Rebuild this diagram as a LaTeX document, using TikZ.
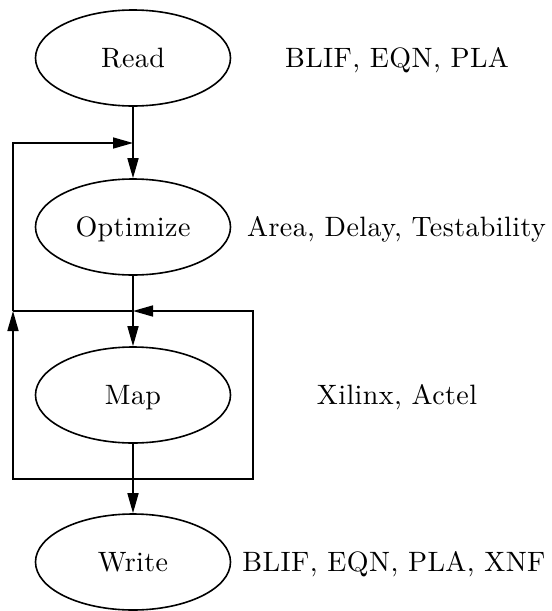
\documentclass[tikz,border=0pt]{standalone}
\usepackage{fontspec}
\setmainfont{lmroman10-regular.otf}[LetterSpace=1.5]
\usetikzlibrary{shapes.geometric,arrows.meta}

\tikzset{
  stage/.style={draw, ellipse, line width=1.6pt, minimum width=195pt,
    minimum height=96pt, inner sep=0pt, font=\fontsize{28}{32}\selectfont,
    text height=18pt, text depth=0pt},
  fmt/.style={inner sep=0pt, font=\fontsize{28}{32}\selectfont,
    text height=18pt, text depth=0pt},
  flow/.style={line width=1.6pt, -{Triangle[length=20pt,width=11pt]}},
  wire/.style={line width=1.6pt}
}

\begin{document}
\begin{tikzpicture}[x=1pt, y=-1pt]
  \useasboundingbox (0,0) rectangle (552,611);

  % synthesis stages
  \node[stage] (read)  at (133,58)  {Read};
  \node[stage] (opt)   at (133,227) {Optimize};
  \node[stage] (map)   at (133,395) {Map};
  \node[stage] (write) at (133,562) {Write};

  % supported formats and targets
  \node[fmt] (freadfmt)  at (397,58)  {BLIF, EQN, PLA};
  \node[fmt] (foptfmt)   at (396.5,227) {Area, Delay, Testability};
  \node[fmt] (fmapfmt)   at (397,395) {Xilinx, Actel};
  \node[fmt] (fwritefmt) at (394,562) {BLIF, EQN, PLA, XNF};

  % junctions on the main flow and loop corners
  \coordinate (j1) at (133,143);
  \coordinate (j2) at (133,311);
  \coordinate (j3) at (133,479);
  \coordinate (tl) at (13,143);
  \coordinate (ml) at (13,311);
  \coordinate (bl) at (13,479);
  \coordinate (mr) at (253,311);
  \coordinate (br) at (253,479);

  % main flow
  \draw[flow] (read.south) -- (opt.north);
  \draw[flow] (opt.south) -- (map.north);
  \draw[flow] (map.south) -- (write.north);

  % feedback loops
  \draw[flow] (j3) -- (bl) -- (ml);
  \draw[flow] (ml) -- (tl) -- (j1);
  \draw[wire] (ml) -- (j2);
  \draw[flow] (j3) -- (br) -- (mr) -- (j2);
\end{tikzpicture}
\end{document}
